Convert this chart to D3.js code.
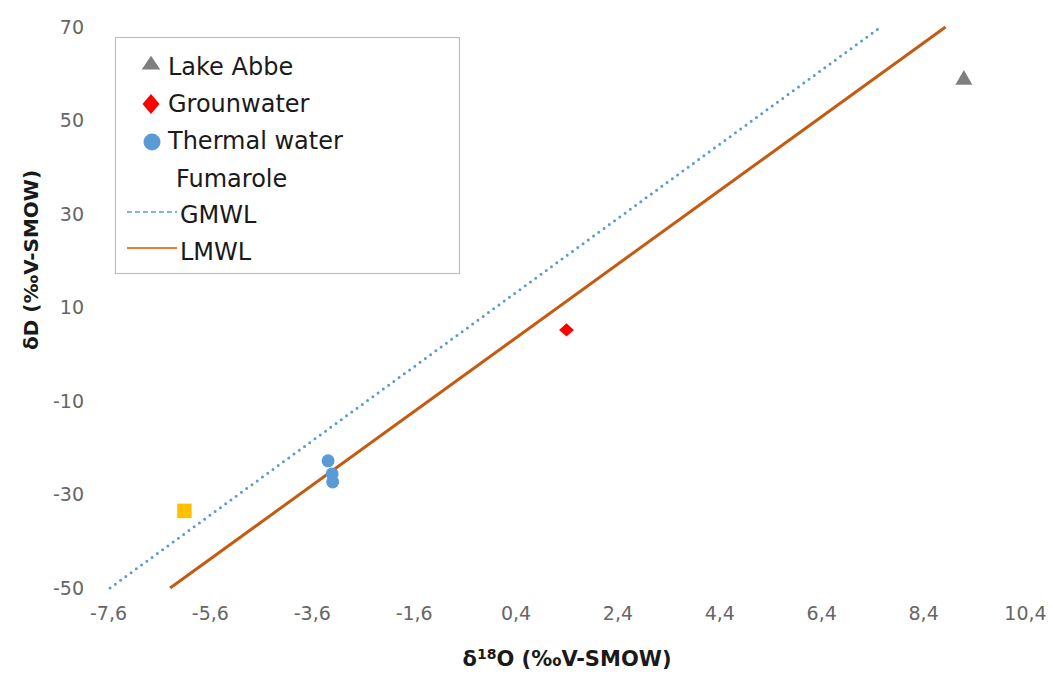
<!DOCTYPE html>
<html>
<head>
<meta charset="utf-8">
<script src="https://cdn.jsdelivr.net/npm/d3@7"></script>
<style>
  html, body { margin: 0; padding: 0; background: #fff; }
  svg { display: block; }
</style>
</head>
<body>
<div id="chart"></div>
<script>
// ── Data ────────────────────────────────────────────────────────────────────
const xTicks = [-7.6, -5.6, -3.6, -1.6, 0.4, 2.4, 4.4, 6.4, 8.4, 10.4];
const yTicks = [-50, -30, -10, 10, 30, 50, 70];

const lakeAbbe    = [[9.2, 58.7]];
const groundwater = [[1.4, 5.2]];
const thermal     = [[-3.28, -22.8], [-3.2, -25.6], [-3.19, -27.3]];
const fumarole    = [[-6.1, -33.5]];
const gmwl        = [[-7.56, -50], [7.57, 70]];
const lmwl        = [[-6.38, -50], [8.84, 70]];

// ── Layout ──────────────────────────────────────────────────────────────────
const W = 1053, H = 675;
const margin = { top: 27, right: 28, bottom: 87, left: 108 };
const width  = W - margin.left - margin.right;
const height = H - margin.top - margin.bottom;

const x = d3.scaleLinear().domain([-7.6, 10.4]).range([0, width]);
const y = d3.scaleLinear().domain([-50, 70]).range([height, 0]);

const svg = d3.select('#chart').append('svg')
  .attr('width', W).attr('height', H);

const g = svg.append('g')
  .attr('transform', `translate(${margin.left},${margin.top})`);

const font = '"DejaVu Sans", sans-serif';

// ── Axes (labels only, no lines) ────────────────────────────────────────────
g.append('g')
  .attr('transform', `translate(0,${height})`)
  .call(d3.axisBottom(x).tickValues(xTicks).tickSize(0).tickPadding(19)
    .tickFormat(d => d3.format('.1f')(d).replace('.', ',').replace('−', '-')))
  .call(ax => ax.select('.domain').remove())
  .call(ax => ax.selectAll('.tick text')
    .attr('fill', '#666').attr('font-size', '19px').attr('font-family', font));

g.append('g')
  .call(d3.axisLeft(y).tickValues(yTicks).tickSize(0).tickPadding(24)
    .tickFormat(d => String(d)))
  .call(ax => ax.select('.domain').remove())
  .call(ax => ax.selectAll('.tick text')
    .attr('fill', '#666').attr('font-size', '19px').attr('font-family', font));

// Axis titles
const xt = svg.append('text')
  .attr('x', 567)
  .attr('y', 666)
  .attr('text-anchor', 'middle')
  .attr('font-size', '21px')
  .attr('font-weight', 'bold')
  .attr('font-family', font)
  .attr('fill', '#1a1a1a');
xt.append('tspan').text('δ');
xt.append('tspan').attr('font-size', '14px').attr('dy', -7).text('18');
xt.append('tspan').attr('dy', 7).text('O (‰V-SMOW)');

svg.append('text')
  .attr('transform', `translate(38,260) rotate(-90)`)
  .attr('text-anchor', 'middle')
  .attr('font-size', '20px')
  .attr('font-weight', 'bold')
  .attr('font-family', font)
  .attr('fill', '#1a1a1a')
  .text('δD (‰V-SMOW)');

// ── Lines ───────────────────────────────────────────────────────────────────
const line = d3.line().x(d => x(d[0])).y(d => y(d[1]));

g.append('path')
  .datum(gmwl)
  .attr('d', line)
  .attr('fill', 'none')
  .attr('stroke', '#5b9bd5')
  .attr('stroke-width', 3)
  .attr('stroke-linecap', 'round')
  .attr('stroke-dasharray', '0,6.5');

g.append('path')
  .datum(lmwl)
  .attr('d', line)
  .attr('fill', 'none')
  .attr('stroke', '#c55a11')
  .attr('stroke-width', 3);

// ── Markers ─────────────────────────────────────────────────────────────────
g.selectAll('.abbe').data(lakeAbbe).join('path')
  .attr('transform', d => `translate(${x(d[0])},${y(d[1])})`)
  .attr('d', d3.symbol(d3.symbolTriangle, 125))
  .attr('fill', '#7f7f7f');

g.selectAll('.gw').data(groundwater).join('path')
  .attr('transform', d => `translate(${x(d[0])},${y(d[1])}) scale(1,0.9) rotate(45)`)
  .attr('d', d3.symbol(d3.symbolSquare, 110))
  .attr('fill', '#ff0000');

g.selectAll('.th').data(thermal).join('circle')
  .attr('cx', d => x(d[0])).attr('cy', d => y(d[1]))
  .attr('r', 6.5)
  .attr('fill', '#5b9bd5');

g.selectAll('.fu').data(fumarole).join('path')
  .attr('transform', d => `translate(${x(d[0])},${y(d[1])})`)
  .attr('d', d3.symbol(d3.symbolSquare, 210))
  .attr('fill', '#ffc000');

// ── Legend ──────────────────────────────────────────────────────────────────
const leg = svg.append('g');
leg.append('rect')
  .attr('x', 115.5).attr('y', 37.5)
  .attr('width', 344).attr('height', 236)
  .attr('fill', '#fff')
  .attr('stroke', '#bfbfbf').attr('stroke-width', 1.2);

const legItems = [
  { label: 'Lake Abbe',     type: 'tri',  y: 75 },
  { label: 'Grounwater',    type: 'dia',  y: 112 },
  { label: 'Thermal water', type: 'dot',  y: 149 },
  { label: 'Fumarole',      type: 'none', y: 187 },
  { label: 'GMWL',          type: 'dash', y: 223 },
  { label: 'LMWL',          type: 'line', y: 260 },
];

legItems.forEach(it => {
  let tx = 168;
  if (it.type === 'tri') {
    leg.append('path').attr('transform', `translate(151,${it.y - 10}) scale(1.05,0.9)`)
      .attr('d', d3.symbol(d3.symbolTriangle, 135)).attr('fill', '#7f7f7f');
  } else if (it.type === 'dia') {
    leg.append('path').attr('transform', `translate(151,${it.y - 8}) scale(0.9,1.05) rotate(45)`)
      .attr('d', d3.symbol(d3.symbolSquare, 180)).attr('fill', '#ff0000');
  } else if (it.type === 'dot') {
    leg.append('circle').attr('cx', 152).attr('cy', it.y - 7).attr('r', 8.5)
      .attr('fill', '#5b9bd5');
  } else if (it.type === 'none') {
    tx = 176;
  } else if (it.type === 'dash') {
    tx = 180;
    leg.append('line').attr('x1', 127).attr('x2', 177)
      .attr('y1', it.y - 11).attr('y2', it.y - 11)
      .attr('stroke', '#5b9bd5').attr('stroke-width', 1.5)
      .attr('stroke-dasharray', '5,3');
  } else if (it.type === 'line') {
    tx = 180;
    leg.append('line').attr('x1', 127).attr('x2', 177)
      .attr('y1', it.y - 12).attr('y2', it.y - 12)
      .attr('stroke', '#ed7d31').attr('stroke-width', 2);
  }
  leg.append('text')
    .attr('x', tx).attr('y', it.y)
    .attr('font-size', '24px')
    .attr('font-family', font)
    .attr('fill', '#1a1a1a')
    .text(it.label);
});
</script>
</body>
</html>
